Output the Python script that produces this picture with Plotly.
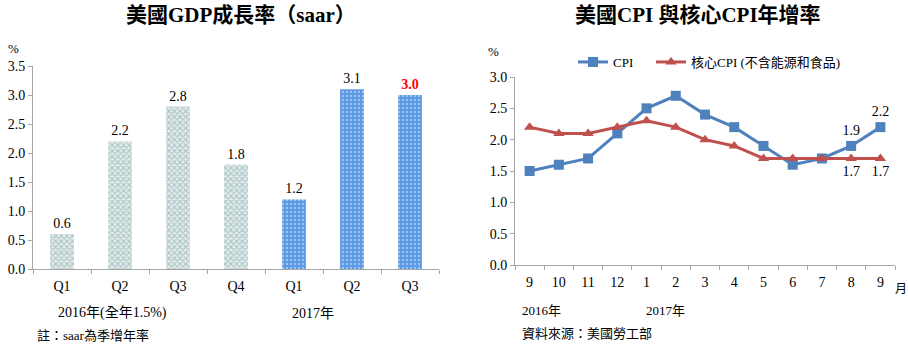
import plotly.graph_objects as go

# ---- data ----
gdp_quarters = ["Q1", "Q2", "Q3", "Q4", "Q1", "Q2", "Q3"]
gdp_keys = ["2016Q1", "2016Q2", "2016Q3", "2016Q4", "2017Q1", "2017Q2", "2017Q3"]
gdp_values = [0.6, 2.2, 2.8, 1.8, 1.2, 3.1, 3.0]

months = ["9", "10", "11", "12", "1", "2", "3", "4", "5", "6", "7", "8", "9"]
month_keys = ["2016-09", "2016-10", "2016-11", "2016-12", "2017-01", "2017-02",
              "2017-03", "2017-04", "2017-05", "2017-06", "2017-07", "2017-08", "2017-09"]
cpi = [1.5, 1.6, 1.7, 2.1, 2.5, 2.7, 2.4, 2.2, 1.9, 1.6, 1.7, 1.9, 2.2]
core_cpi = [2.2, 2.1, 2.1, 2.2, 2.3, 2.2, 2.0, 1.9, 1.7, 1.7, 1.7, 1.7, 1.7]

W, H = 908, 344
SERIF = "Liberation Serif"
CJK = "Liberation Serif, Noto Sans CJK TC"


def px_x(x):
    return x / W


def px_y(y):
    return 1 - y / H


fig = go.Figure()

# ---- GDP bars: 2016 hatched grey-teal, 2017 dotted blue ----
n16 = 4
fig.add_trace(go.Bar(
    x=gdp_keys[:n16], y=gdp_values[:n16],
    xaxis="x", yaxis="y",
    marker=dict(color="#e4eded", line=dict(width=0),
                pattern=dict(shape="x", fgcolor="#7a9f9f", bgcolor="#e4eded",
                             size=4, solidity=0.5)),
    text=[f"{v:.1f}" for v in gdp_values[:n16]],
    textposition="outside", cliponaxis=False,
    textfont=dict(family=SERIF, size=14, color="black"),
    showlegend=False,
))
last = len(gdp_values) - 1
fig.add_trace(go.Bar(
    x=gdp_keys[n16:], y=gdp_values[n16:],
    xaxis="x", yaxis="y",
    marker=dict(color="#5898e4", line=dict(width=0),
                pattern=dict(shape=".", fgcolor="#dfecfc", bgcolor="#5898e4",
                             size=4, solidity=0.3)),
    text=[(f"<b>{v:.1f}</b>" if i + n16 == last else f"{v:.1f}")
          for i, v in enumerate(gdp_values[n16:])],
    textposition="outside", cliponaxis=False,
    textfont=dict(family=SERIF, size=14,
                  color=["red" if i + n16 == last else "black"
                         for i in range(len(gdp_values) - n16)]),
    showlegend=False,
))

# ---- CPI lines ----
cpi_text = ["" for _ in cpi]
cpi_text[-2] = f"{cpi[-2]:.1f}"
cpi_text[-1] = f"{cpi[-1]:.1f}"
core_text = ["" for _ in core_cpi]
core_text[-2] = f"{core_cpi[-2]:.1f}"
core_text[-1] = f"{core_cpi[-1]:.1f}"

fig.add_trace(go.Scatter(
    x=month_keys, y=cpi, xaxis="x2", yaxis="y2",
    mode="lines+markers+text", name="CPI", legend="legend",
    line=dict(color="#4f81bd", width=3),
    marker=dict(symbol="square", size=10, color="#4f81bd"),
    text=cpi_text, textposition="top center",
    textfont=dict(family=SERIF, size=14, color="black"),
    cliponaxis=False,
))
fig.add_trace(go.Scatter(
    x=month_keys, y=core_cpi, xaxis="x2", yaxis="y2",
    mode="lines+markers+text", name="核心CPI (不含能源和食品)", legend="legend2",
    line=dict(color="#c0504d", width=3),
    marker=dict(symbol="triangle-up", size=10, color="#c0504d"),
    text=core_text, textposition="bottom center",
    textfont=dict(family=SERIF, size=14, color="black"),
    cliponaxis=False,
))

axis_common = dict(showgrid=False, zeroline=False, showline=True, automargin=False,
                   linecolor="#a6a6a6", linewidth=1, ticks="outside",
                   tickcolor="#a6a6a6", ticklen=4,
                   tickfont=dict(family=SERIF, size=14, color="black"))

legend_common = dict(orientation="h", y=px_y(47), xanchor="left", yanchor="top",
                     font=dict(family=CJK, size=13, color="black"),
                     bgcolor="rgba(0,0,0,0)", itemwidth=30)

fig.update_layout(
    width=W, height=H,
    margin=dict(l=0, r=0, t=0, b=0, pad=0, autoexpand=False),
    paper_bgcolor="white", plot_bgcolor="white",
    bargap=0.59,
    xaxis=dict(domain=[px_x(33), px_x(439)], anchor="y",
               type="category", categoryorder="array", categoryarray=gdp_keys,
               range=[-0.5, len(gdp_keys) - 0.5],
               tickvals=gdp_keys, ticktext=gdp_quarters, tickson="boundaries",
               ticklabelstandoff=4, **axis_common),
    yaxis=dict(domain=[px_y(269), px_y(66)], anchor="x",
               range=[0, 3.5], dtick=0.5, tickformat=".1f", **axis_common),
    xaxis2=dict(domain=[px_x(515), px_x(895)], anchor="y2",
                type="category", categoryorder="array", categoryarray=month_keys,
                range=[-0.5, len(month_keys) - 0.5],
                tickvals=month_keys, ticktext=months, tickson="boundaries",
                ticklabelstandoff=4, **axis_common),
    yaxis2=dict(domain=[px_y(265), px_y(77)], anchor="x2",
                range=[0, 3.0], dtick=0.5, tickformat=".1f", **axis_common),
    legend=dict(x=px_x(573), **legend_common),
    legend2=dict(x=px_x(651), **legend_common),
)


def note(text, x, y, size=13, xanchor="left", bold=False):
    fig.add_annotation(text=f"<b>{text}</b>" if bold else text,
                       x=px_x(x), y=px_y(y), xref="paper", yref="paper",
                       xanchor=xanchor, yanchor="middle", showarrow=False,
                       font=dict(family=CJK, size=size, color="black"))


# titles
note("美國GDP成長率（saar）", 241, 15, size=21, xanchor="center", bold=True)
note("美國CPI 與核心CPI年增率", 698, 15, size=21, xanchor="center", bold=True)

# units
note("%", 6, 48, size=13)
note("%", 486, 51, size=13)
note("月", 893, 289, size=12)

# period labels and notes
note("2016年(全年1.5%)", 112, 313, size=14, xanchor="center")
note("2017年", 313, 313, size=14, xanchor="center")
note("註：saar為季增年率", 35, 335, size=13)
note("2016年", 520, 310, size=13)
note("2017年", 644, 310, size=13)
note("資料來源：美國勞工部", 520, 333, size=13)

fig.write_html("out.html")
